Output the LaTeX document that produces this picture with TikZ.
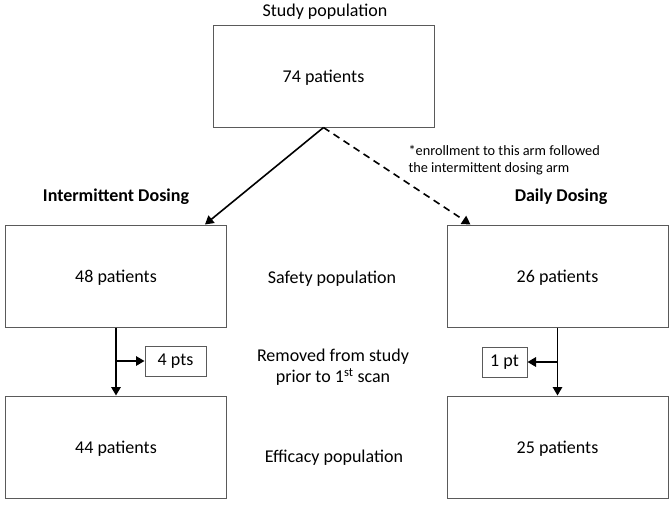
\documentclass[tikz,border=0pt]{standalone}
\usepackage{fontspec}
\setmainfont{Carlito}
\usepackage{tikz}
\usetikzlibrary{arrows.meta,positioning,calc}

\definecolor{boxGray}{RGB}{90,90,90}

\tikzset{
  popbox/.style={draw=boxGray, line width=1pt, minimum width=221pt, minimum height=102pt, inner sep=0pt, text depth=0pt},
  ptbox/.style={draw=boxGray, line width=1pt, minimum height=30pt, inner sep=0pt},
  flow/.style={-{Triangle[length=8.5pt,width=9.5pt]}, line width=1.6pt, black},
  lbl/.style={font=\fontsize{18}{21}\selectfont},
}

\begin{document}
\begin{tikzpicture}[x=1pt, y=-1pt, font=\fontsize{18}{21}\selectfont]
    \useasboundingbox (0,0) rectangle (672,506);
    % Study population
    \node[lbl] (studylbl) at (325,12) {Study population};
    \node[popbox] (total) at (323.5,76) {74 patients};
    % Arms
    \node[lbl, font=\fontsize{18}{21}\selectfont\bfseries] (interlbl) at (116,197) {Intermittent Dosing};
    \node[lbl, font=\fontsize{18}{21}\selectfont\bfseries] (dailylbl) at (561,197) {Daily Dosing};
    \node[anchor=west, align=left, font=\fontsize{14.3}{17}\selectfont] (note) at (405,160)
      {*enrollment to this arm followed\\the intermittent dosing arm};
    % Safety population
    \node[popbox] (inter48) at (116,276) {48 patients};
    \node[popbox] (daily26) at (557.5,276) {26 patients};
    \node[lbl] (safety) at (332,279) {Safety population};
    % Removed
    \node[ptbox, minimum width=61pt] (pts4) at (175.5,361) {4 pts};
    \node[ptbox, minimum width=45pt] (pt1) at (504.5,362) {1 pt};
    \node[lbl, align=center] (removed) at (333,367) {Removed from study\\prior to 1\textsuperscript{st} scan};
    % Efficacy population
    \node[popbox] (inter44) at (116,447) {44 patients};
    \node[popbox] (daily25) at (557.5,447) {25 patients};
    \node[lbl] (efficacy) at (334,458) {Efficacy population};
    % Arrows
    \draw[flow] (total.south) -- ([xshift=89pt]inter48.north);
    \draw[flow, dashed, dash pattern=on 7pt off 5pt] (total.south) -- ([xshift=-87pt]daily26.north);
    \draw[flow] (inter48.south) -- (inter44.north);
    \draw[flow] (daily26.south) -- (daily25.north);
    \draw[flow] (inter48.south |- pts4.west) -- (pts4.west);
    \draw[flow] (daily26.south |- pt1.east) -- (pt1.east);
\end{tikzpicture}
\end{document}
